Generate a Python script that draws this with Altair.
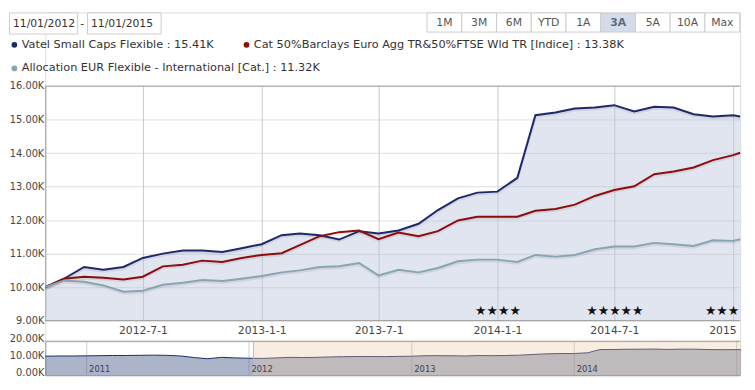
import calendar
import altair as alt
import pandas as pd

# ---------------- data ----------------
main_dates = []
for yy in (2012, 2013, 2014):
    for mm in range(1, 13):
        main_dates.append(f"{yy}-{mm:02d}-{calendar.monthrange(yy, mm)[1]:02d}")
main_dates.append("2015-01-11")

series_names = [
    "Vatel Small Caps Flexible",
    "Cat 50%Barclays Euro Agg TR&50%FTSE Wld TR [Indice]",
    "Allocation EUR Flexible - International [Cat.]",
]
series_colors = ["#1c2a6a", "#8e0c0c", "#86a6b2"]
legend_values = [15.41, 13.38, 11.32]

vatel = [10.00, 10.25, 10.60, 10.52, 10.60, 10.87, 11.00, 11.09, 11.09, 11.05, 11.16, 11.28,
         11.55, 11.60, 11.55, 11.42, 11.67, 11.60, 11.69, 11.89, 12.30, 12.65, 12.82, 12.85,
         13.26, 15.13, 15.21, 15.33, 15.36, 15.43, 15.24, 15.38, 15.36, 15.16, 15.09, 15.13, 15.09]
cat_index = [10.00, 10.25, 10.31, 10.28, 10.23, 10.31, 10.62, 10.67, 10.79, 10.75, 10.87, 10.96,
             11.01, 11.25, 11.52, 11.64, 11.69, 11.43, 11.63, 11.52, 11.67, 11.99, 12.10, 12.10,
             12.10, 12.28, 12.33, 12.46, 12.72, 12.90, 13.01, 13.37, 13.45, 13.57, 13.79, 13.94, 14.01]
allocation = [10.00, 10.20, 10.16, 10.05, 9.86, 9.89, 10.07, 10.13, 10.21, 10.18, 10.25, 10.33,
              10.44, 10.50, 10.60, 10.62, 10.72, 10.35, 10.52, 10.44, 10.57, 10.77, 10.82, 10.82,
              10.75, 10.96, 10.91, 10.96, 11.13, 11.21, 11.21, 11.32, 11.28, 11.23, 11.40, 11.38, 11.43]

# navigator: earlier history of the fund before the selected window
nav_pre_dates = ["2010-09-30", "2010-10-31", "2010-11-30", "2010-12-31",
                 "2011-01-31", "2011-02-28", "2011-03-31", "2011-04-30",
                 "2011-05-31", "2011-06-30", "2011-07-31", "2011-08-31",
                 "2011-09-30", "2011-10-31", "2011-11-30", "2011-12-31"]
nav_pre_values = [11.3, 11.4, 11.4, 11.5, 11.6, 11.7, 11.7, 11.8,
                  11.9, 11.8, 11.4, 10.5, 9.8, 10.6, 10.3, 10.1]

star_dates = ["2014-01-01", "2014-07-01", "2014-12-14"]
star_counts = [4, 5, 3]

main_ticks = [(2012, 7), (2013, 1), (2013, 7), (2014, 1), (2014, 7), (2015, 1)]
nav_ticks = [2011, 2012, 2013, 2014, 2015]
main_yticks = [9, 10, 11, 12, 13, 14, 15, 16]
nav_yticks = [0, 10, 20]

button_labels = ["1M", "3M", "6M", "YTD", "1A", "3A", "5A", "10A", "Max"]
selected_button = "3A"
date_from = "11/01/2012"
date_to = "11/01/2015"
selection_start = "2012-01-11"
selection_end = "2015-01-11"

main_domain = ("2012-01-31", "2015-01-11")
nav_domain = ("2010-09-30", "2015-01-09")

# ---------------- layout ----------------
PLOT_W = 708
CHROME_H = 75
MAIN_H = 239          # plot area of the main chart
MAIN_VIEW_H = 260     # plot + band for the x labels
NAV_H = 35            # plot area of the navigator
FONT = "DejaVu Sans"
AX = "#9a9a9a"
DIGIT_EM, HYPHEN_EM = 0.636, 0.361   # DejaVu Sans advance widths


def utc_dt(s):
    y, m, d = (int(p) for p in s.split("-"))
    return alt.DateTime(year=y, month=m, date=d, utc=True)


def text_w(s, fs):
    return fs * sum(DIGIT_EM if c.isdigit() else HYPHEN_EM for c in s)


def label_layout(dates, labels, domain, width, fs, centered=True, dx=0.0):
    """A label running past the plot edge is cut there, as in the reference."""
    t0, t1 = pd.Timestamp(domain[0]), pd.Timestamp(domain[1])
    rows = []
    for d, lab in zip(dates, labels):
        x = (pd.Timestamp(d) - t0) / (t1 - t0) * width
        w = text_w(lab, fs)
        left = x - w / 2 if centered else x + dx
        shown = lab
        while shown and left + text_w(shown, fs) > width - 0.5:
            shown = shown[:-1]
        if shown:
            rows.append({"date": d, "label": shown, "shift": left - x})
    return pd.DataFrame(rows)


# ---------------- chrome (date boxes, buttons, legend) ----------------
nb = len(button_labels)
btn_left = 389
btn_w = (PLOT_W - 0.5 - btn_left) / nb
btn = pd.DataFrame({"label": button_labels})
btn["x0"] = [btn_left + i * btn_w for i in range(nb)]
btn["x1"] = btn["x0"] + btn_w
btn["xc"] = (btn["x0"] + btn["x1"]) / 2
btn["sel"] = ["yes" if b == selected_button else "no" for b in button_labels]

btn_rect = alt.Chart(btn).mark_rect(stroke="#cccccc", strokeWidth=1).encode(
    x=alt.X("x0:Q", scale=None, axis=None), x2="x1:Q",
    y=alt.value(0.5), y2=alt.value(20),
    fill=alt.Fill("sel:N", scale=alt.Scale(domain=["no", "yes"], range=["#ffffff", "#d3dce8"]), legend=None),
)
btn_txt = alt.Chart(btn).mark_text(fontSize=11, color="#555555", font=FONT).encode(
    x=alt.X("xc:Q", scale=None, axis=None), y=alt.value(10.5), text="label:N"
).transform_filter("datum.sel == 'no'")
btn_txt_sel = alt.Chart(btn).mark_text(fontSize=11, color="#5b6a80", fontWeight="bold", font=FONT).encode(
    x=alt.X("xc:Q", scale=None, axis=None), y=alt.value(10.5), text="label:N"
).transform_filter("datum.sel == 'yes'")

boxes = pd.DataFrame({"t": [date_from, date_to], "x0": [-36.5, 43], "x1": [33, 118]})
boxes["tx"] = boxes["x0"] + 3.5
box_rect = alt.Chart(boxes).mark_rect(fill="white", stroke="#cccccc", strokeWidth=1).encode(
    x=alt.X("x0:Q", scale=None, axis=None), x2="x1:Q", y=alt.value(0.5), y2=alt.value(22)
)
box_txt = alt.Chart(boxes).mark_text(align="left", fontSize=11, color="#333333", font=FONT).encode(
    x=alt.X("tx:Q", scale=None, axis=None), y=alt.value(11.5), text="t:N"
)
dash = alt.Chart(pd.DataFrame({"t": ["-"], "x": [37.5]})).mark_text(fontSize=11, color="#333333", font=FONT).encode(
    x=alt.X("x:Q", scale=None, axis=None), y=alt.value(11.5), text="t:N"
)

leg = pd.DataFrame({
    "t": [f"{n} : {v:.2f}K" for n, v in zip(series_names, legend_values)],
    "c": series_colors,
    "dx": [-31.5, 205, -31.5],
    "dy": [33, 33, 57],
})
leg["tx"] = leg["dx"] + 7.5
leg_dot = alt.Chart(leg).mark_circle(size=34, opacity=1).encode(
    x=alt.X("dx:Q", scale=None, axis=None), y=alt.Y("dy:Q", scale=None, axis=None),
    color=alt.Color("c:N", scale=None),
)
leg_txt = alt.Chart(leg).mark_text(align="left", baseline="middle", fontSize=11.5, color="#333333", font=FONT).encode(
    x=alt.X("tx:Q", scale=None, axis=None), y=alt.Y("dy:Q", scale=None, axis=None), text="t:N"
)

chrome = alt.layer(box_rect, box_txt, dash, btn_rect, btn_txt, btn_txt_sel, leg_dot, leg_txt).properties(
    width=PLOT_W, height=CHROME_H
)

# ---------------- main chart ----------------
rows = []
for name, vals in zip(series_names, [vatel, cat_index, allocation]):
    for d, v in zip(main_dates, vals):
        rows.append({"date": d, "series": name, "value": v})
main_df = pd.DataFrame(rows)
vatel_df = main_df[main_df["series"] == series_names[0]]

x_main = alt.X(
    "date:T", title=None, axis=None,
    scale=alt.Scale(type="utc", domain=[utc_dt(main_domain[0]), utc_dt(main_domain[1])]),
)
y_main = alt.Y(
    "value:Q", title=None,
    scale=alt.Scale(domain=[9, 16], range=[MAIN_H, 0], zero=False, nice=False),
    axis=alt.Axis(
        values=main_yticks, labelExpr="format(datum.value, '.2f') + 'K'",
        grid=True, gridColor="#dddddd", ticks=False, domainColor=AX,
        labelFontSize=10, labelColor="#444444", labelPadding=1.5, labelFont=FONT,
    ),
)

mt = label_layout([f"{y}-{m:02d}-01" for y, m in main_ticks], [f"{y}-{m}-1" for y, m in main_ticks],
                  main_domain, PLOT_W, 11)
vgrid = alt.Chart(mt).mark_rule(color="#c9c9c9").encode(x=x_main, y=alt.value(0), y2=alt.value(MAIN_H))
xlabels = [
    alt.Chart(mt.iloc[[i]]).mark_text(fontSize=11, color="#444444", baseline="top", align="left",
                                      dx=float(mt["shift"].iloc[i]), font=FONT)
    .encode(x=x_main, y=alt.value(MAIN_H + 5), text="label:N")
    for i in range(len(mt))
]
area = alt.Chart(vatel_df).mark_area(color="#bcc6dd", opacity=0.45).encode(
    x=x_main, y=y_main, y2=alt.datum(9)
)
shadow = alt.Chart(main_df).mark_line(color="#000000", opacity=0.07, strokeWidth=3, yOffset=1.5).encode(
    x=x_main, y=y_main, detail="series:N"
)
lines = alt.Chart(main_df).mark_line(strokeWidth=2).encode(
    x=x_main, y=y_main,
    color=alt.Color("series:N", scale=alt.Scale(domain=series_names, range=series_colors), legend=None),
)
borders = alt.Chart(pd.DataFrame({"value": [9, 16]})).mark_rule(color=AX).encode(y=y_main)

stars_df = pd.DataFrame({"date": star_dates, "stars": ["\u2605" * n for n in star_counts]})
stars = alt.Chart(stars_df).mark_text(fontSize=13, color="#111111", baseline="middle", clip=True, font=FONT).encode(
    x=x_main, y=alt.value(229), text="stars:N"
)

main = alt.layer(vgrid, area, shadow, lines, borders, stars, *xlabels).properties(
    width=PLOT_W, height=MAIN_VIEW_H
)

# ---------------- navigator ----------------
nav_df = pd.DataFrame({"date": nav_pre_dates + main_dates, "value": nav_pre_values + vatel})
x_nav = alt.X(
    "date:T", title=None, axis=None,
    scale=alt.Scale(type="utc", domain=[utc_dt(nav_domain[0]), utc_dt(nav_domain[1])]),
)
y_nav = alt.Y(
    "value:Q", title=None,
    scale=alt.Scale(domain=[0, 20], range=[NAV_H, 0], nice=False),
    axis=alt.Axis(
        values=nav_yticks, labelExpr="format(datum.value, '.2f') + 'K'",
        grid=False, ticks=False, domainColor=AX, labelOffset=-3,
        labelFontSize=10, labelColor="#444444", labelPadding=1.5, labelFont=FONT,
    ),
)
NAV_FS = 8.5
nt_all = pd.DataFrame({"date": [f"{y}-01-01" for y in nav_ticks]})
nt = label_layout([f"{y}-01-01" for y in nav_ticks], [str(y) for y in nav_ticks], nav_domain, PLOT_W,
                  NAV_FS, centered=False, dx=2.5)
nav_grid = alt.Chart(nt_all).mark_rule(color="#cccccc").encode(x=x_nav, y=alt.value(0), y2=alt.value(NAV_H))
nav_labels = alt.Chart(nt).mark_text(fontSize=NAV_FS, color="#3a3f4f", baseline="bottom", align="left",
                                     dx=2.5, font=FONT).encode(x=x_nav, y=alt.value(NAV_H - 2), text="label:N")
nav_area = alt.Chart(nav_df).mark_area(color="#5a6996", opacity=0.5).encode(x=x_nav, y=y_nav)
nav_line = alt.Chart(nav_df).mark_line(color="#1c2a6a", strokeWidth=1).encode(x=x_nav, y=y_nav)
sel_df = pd.DataFrame({"date": [selection_start], "date_end": [selection_end]})
nav_sel = alt.Chart(sel_df).mark_rect(color="#e8c79e", opacity=0.32).encode(
    x=x_nav, x2="date_end:T", y=alt.value(0), y2=alt.value(NAV_H)
)
nav_edge = alt.Chart(sel_df).mark_rule(color="#b8bcc8").encode(x=x_nav, y=alt.value(0), y2=alt.value(NAV_H))
nav_borders = alt.Chart(pd.DataFrame({"value": [0, 20]})).mark_rule(color=AX).encode(y=y_nav)

nav = alt.layer(nav_grid, nav_area, nav_line, nav_sel, nav_edge, nav_borders, nav_labels).properties(
    width=PLOT_W, height=NAV_H
)

chart = alt.vconcat(chrome, main, nav, spacing=0, bounds="flush").properties(
    padding=0
).configure_view(stroke=None).configure(font=FONT)

chart.save("out.html", embed_options={"renderer": "svg", "actions": False})
